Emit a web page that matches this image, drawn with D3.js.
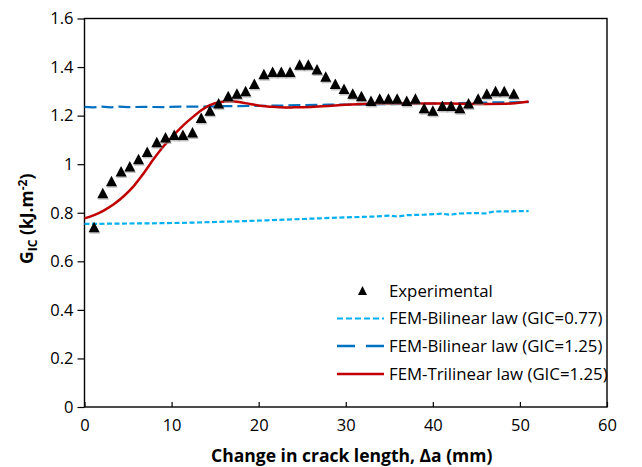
<!doctype html>
<html>
<head>
<meta charset="utf-8">
<script src="https://d3js.org/d3.v7.min.js"></script>
<style>
  body { margin: 0; background: #fff; }
  text { font-family: "Open Sans", sans-serif; fill: #000; }
  .tick text { font-size: 16.5px; }
  .axis-title { font-size: 17.5px; font-weight: bold; }
  .legend text { font-size: 16.8px; }
</style>
</head>
<body>
<svg id="chart" width="642" height="467"></svg>
<script>
// experimental points (crack extension mm, GIC kJ/m2)
var expX = [1.1, 2.1, 3.1, 4.2, 5.2, 6.2, 7.2, 8.3, 9.3, 10.3, 11.3, 12.4,
            13.4, 14.4, 15.4, 16.5, 17.5, 18.5, 19.5, 20.6, 21.6, 22.6, 23.6, 24.7,
            25.7, 26.7, 27.7, 28.8, 29.8, 30.8, 31.8, 32.9, 33.9, 34.9, 35.9, 37.0,
            38.0, 39.0, 40.0, 41.1, 42.1, 43.1, 44.1, 45.2, 46.2, 47.2, 48.2, 49.3];
var expY = [0.74, 0.88, 0.93, 0.97, 0.99, 1.02, 1.05, 1.09, 1.11, 1.12, 1.12, 1.13,
            1.19, 1.22, 1.25, 1.28, 1.29, 1.30, 1.33, 1.37, 1.38, 1.38, 1.38, 1.41,
            1.41, 1.39, 1.36, 1.33, 1.31, 1.29, 1.28, 1.26, 1.27, 1.27, 1.27, 1.26,
            1.27, 1.23, 1.22, 1.24, 1.24, 1.23, 1.25, 1.27, 1.29, 1.30, 1.30, 1.29];

// FEM bilinear, GIC = 0.77
var bil077X = [0, 3, 6, 9, 12, 15, 18, 21, 24, 27, 30, 33, 35, 36, 37, 39, 41, 42, 43, 45, 46, 47, 49, 51];
var bil077Y = [0.754, 0.755, 0.756, 0.757, 0.759, 0.762, 0.765, 0.769, 0.773, 0.777, 0.781, 0.784,
               0.788, 0.784, 0.790, 0.792, 0.796, 0.792, 0.797, 0.799, 0.797, 0.805, 0.806, 0.807];

// FEM bilinear, GIC = 1.25
var bil125X = [0, 1, 2, 3, 4, 5, 7, 9, 11, 13, 16, 19, 22, 25, 28, 31, 34, 37, 40, 43, 46, 49, 51];
var bil125Y = [1.236, 1.234, 1.237, 1.234, 1.237, 1.235, 1.236, 1.235, 1.237, 1.237, 1.239, 1.240,
               1.241, 1.243, 1.245, 1.246, 1.247, 1.248, 1.250, 1.252, 1.254, 1.255, 1.256];

// FEM trilinear, GIC = 1.25
var triX = [0, 1.1, 2.2, 3.4, 4.5, 5.7, 6.8, 8.0, 9.1, 10.3, 11.4, 12.6, 13.5, 14.4, 15.6, 16.7,
            17.9, 19.0, 20.1, 21.3, 22.4, 24, 26, 28, 30, 34, 38, 42, 46, 49, 51];
var triY = [0.777, 0.790, 0.809, 0.836, 0.868, 0.912, 0.963, 1.024, 1.075, 1.122, 1.162, 1.199,
            1.224, 1.243, 1.256, 1.259, 1.255, 1.248, 1.241, 1.237, 1.234, 1.234, 1.236, 1.240,
            1.245, 1.250, 1.250, 1.250, 1.248, 1.250, 1.258];

var xTicks = [0, 10, 20, 30, 40, 50, 60];
var yTicks = [0, 0.2, 0.4, 0.6, 0.8, 1, 1.2, 1.4, 1.6];

var legendLabels = ['Experimental', 'FEM-Bilinear law (GIC=0.77)',
                    'FEM-Bilinear law (GIC=1.25)', 'FEM-Trilinear law (GIC=1.25)'];

var plotL = 84.5, plotR = 607, plotT = 18.5, plotB = 407;

var svg = d3.select('#chart');
var x = d3.scaleLinear().domain([0, 60]).range([plotL, plotR]);
var y = d3.scaleLinear().domain([0, 1.6]).range([plotB, plotT]);

function pts(xs, ys){ return xs.map(function(v, i){ return [v, ys[i]]; }); }

// frame
svg.append('rect').attr('x', plotL).attr('y', plotT)
  .attr('width', plotR - plotL).attr('height', plotB - plotT)
  .attr('fill', 'none').attr('stroke', '#000').attr('stroke-width', 1.4);

// axes
var xAxis = d3.axisBottom(x).tickValues(xTicks).tickSizeInner(-5).tickSizeOuter(0).tickPadding(10);
var yAxis = d3.axisLeft(y).tickValues(yTicks).tickSizeInner(7).tickSizeOuter(0).tickPadding(4)
  .tickFormat(function(d){ return String(+d.toFixed(1)); });

var gx = svg.append('g').attr('transform', 'translate(0,' + plotB + ')').call(xAxis);
var gy = svg.append('g').attr('transform', 'translate(' + plotL + ',0)').call(yAxis);
[gx, gy].forEach(function(g){
  g.select('.domain').remove();
  g.selectAll('.tick line').attr('stroke', '#000').attr('stroke-width', 1.2);
  g.selectAll('.tick text').attr('font-family', null).attr('font-size', null);
});
gx.selectAll('.tick text').attr('dy', '0.85em');

// lines
var line = d3.line().x(function(d){ return x(d[0]); }).y(function(d){ return y(d[1]); });

svg.append('path').datum(pts(bil077X, bil077Y))
  .attr('d', line.curve(d3.curveLinear))
  .attr('fill', 'none').attr('stroke', '#00B0F0').attr('stroke-width', 2.2)
  .attr('stroke-dasharray', '5,2.5');

svg.append('path').datum(pts(bil125X, bil125Y))
  .attr('d', line.curve(d3.curveLinear))
  .attr('fill', 'none').attr('stroke', '#0070C0').attr('stroke-width', 2.2)
  .attr('stroke-dasharray', '12,5');

svg.append('path').datum(pts(triX, triY))
  .attr('d', line.curve(d3.curveCatmullRom.alpha(0.5)))
  .attr('fill', 'none').attr('stroke', '#C00000').attr('stroke-width', 2.5);

// triangles
var triPath = 'M0,-5.5L5.5,5L-5.5,5Z';
var expData = pts(expX, expY);
svg.append('g').selectAll('path.shadow').data(expData).enter().append('path')
  .attr('class', 'shadow').attr('d', triPath)
  .attr('transform', function(d){ return 'translate(' + (x(d[0]) + 0.8) + ',' + (y(d[1]) + 1.5) + ')'; })
  .attr('fill', '#999').attr('opacity', 0.6);
svg.append('g').selectAll('path.mk').data(expData).enter().append('path')
  .attr('class', 'mk').attr('d', triPath)
  .attr('transform', function(d){ return 'translate(' + x(d[0]) + ',' + y(d[1]) + ')'; })
  .attr('fill', '#000');

// legend
var lg = svg.append('g').attr('class', 'legend');
var rowY = [291, 318.5, 346, 374];
lg.append('path').attr('d', 'M0,-5L4.5,4L-4.5,4Z')
  .attr('transform', 'translate(362.5,' + rowY[0] + ')').attr('fill', '#000');
var legStyles = [null,
  {c: '#00B0F0', w: 2.2, dash: '6,3'},
  {c: '#0070C0', w: 2.5, dash: '18,11'},
  {c: '#C00000', w: 2.5, dash: null}];
legStyles.forEach(function(s, i){
  if (!s) return;
  lg.append('line').attr('x1', 337).attr('x2', 384).attr('y1', rowY[i]).attr('y2', rowY[i])
    .attr('stroke', s.c).attr('stroke-width', s.w).attr('stroke-dasharray', s.dash);
});
lg.selectAll('text').data(legendLabels).enter().append('text')
  .attr('x', 389).attr('y', function(d, i){ return rowY[i]; })
  .attr('dy', '0.35em').text(function(d){ return d; });

// axis titles
svg.append('text').attr('class', 'axis-title')
  .attr('x', (plotL + plotR) / 2 + 6).attr('y', 462).attr('text-anchor', 'middle')
  .text('Change in crack length, \u0394a (mm)');

var yt = svg.append('text').attr('class', 'axis-title')
  .attr('transform', 'translate(33,' + ((plotT + plotB) / 2 + 6) + ') rotate(-90)')
  .attr('text-anchor', 'middle');
yt.append('tspan').text('G');
yt.append('tspan').attr('font-size', '12px').attr('dy', '4').text('IC');
yt.append('tspan').attr('dy', '-4').text(' (kJ.m');
yt.append('tspan').attr('font-size', '12px').attr('dy', '-6').text('-2');
yt.append('tspan').attr('dy', '6').text(')');
</script>
</body>
</html>
